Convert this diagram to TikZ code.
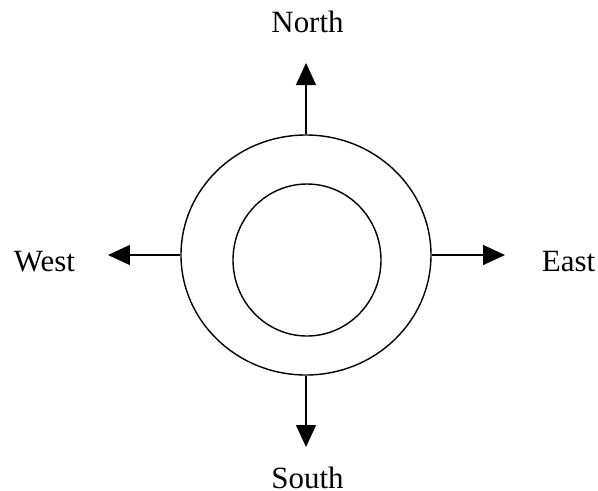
\documentclass[tikz,border=0pt]{standalone}
\usepackage{fontspec}
\setmainfont{Liberation Serif}
\usetikzlibrary{shapes.geometric, arrows.meta, positioning}

\begin{document}
\begin{tikzpicture}[
    ring/.style={ellipse, draw, line width=0.8pt, inner sep=0},
    pointer/.style={line width=0.8pt, -{Triangle[length=4.4mm, width=4mm]}},
    lbl/.style={font=\fontsize{17.6}{21}\selectfont, anchor=base, inner sep=0},
]
    \useasboundingbox (-6.12, -4.7) rectangle (5.84, 5.1);

    % Rings
    \node[ring, minimum width=5cm, minimum height=4.8cm] (outer) at (0, 0) {};
    \node[ring, minimum width=2.96cm, minimum height=3.04cm] (inner) at (0.02, -0.1) {};

    % Arrow tips
    \coordinate (ntip) at (0, 3.84);
    \coordinate (stip) at (0, -3.84);
    \coordinate (wtip) at (-3.96, 0);
    \coordinate (etip) at (3.98, 0);

    \draw[pointer] (outer.north) -- (ntip);
    \draw[pointer] (outer.south) -- (stip);
    \draw[pointer] (outer.west) -- (wtip);
    \draw[pointer] (outer.east) -- (etip);

    % Labels
    \node[lbl] (north) at (0.03, 4.46) {North};
    \node[lbl] (south) at (0.03, -4.66) {South};
    \node[lbl] (west) at (-5.23, -0.32) {West};
    \node[lbl] (east) at (5.25, -0.32) {East};
\end{tikzpicture}
\end{document}
